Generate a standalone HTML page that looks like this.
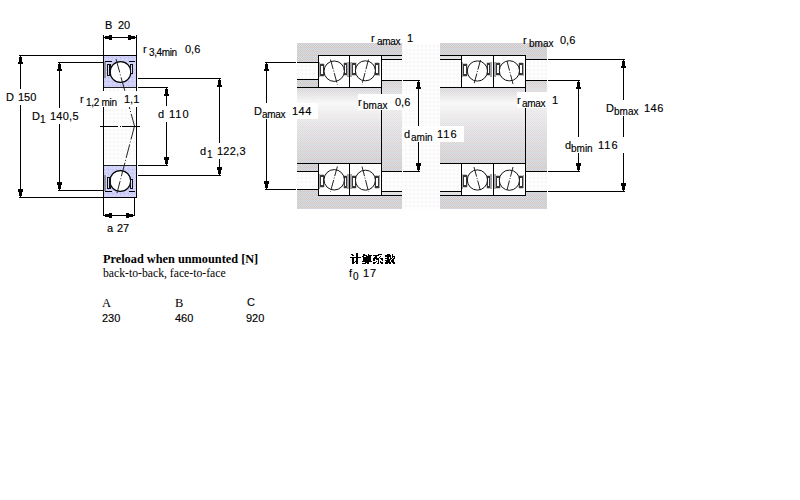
<!DOCTYPE html>
<html><head><meta charset="utf-8"><style>
html,body{margin:0;padding:0;background:#fff;width:800px;height:500px;overflow:hidden}
svg{position:absolute;left:0;top:0}
</style></head><body>
<svg width="800" height="500" viewBox="0 0 800 500">
<defs>
<pattern id="bp" patternUnits="userSpaceOnUse" x="0" y="0" width="4" height="4">
<rect width="4" height="4" fill="#d2cdf8"/><rect x="1" y="0" width="1" height="1" fill="#dcd8fb"/><rect x="3" y="2" width="1" height="1" fill="#dcd8fb"/>
<rect x="0" y="1" width="1" height="1" fill="#9ec8f4"/><rect x="2" y="3" width="1" height="1" fill="#c4f4f0"/>
</pattern>
<pattern id="hp" patternUnits="userSpaceOnUse" x="0" y="0" width="4" height="4">
<rect width="4" height="4" fill="#fdfdfd"/><rect x="1" y="2" width="1" height="1" fill="#f1f1f1"/><rect x="2" y="1" width="1" height="1" fill="#f1f1f1"/>
</pattern>
<pattern id="gp" patternUnits="userSpaceOnUse" x="0" y="0" width="4" height="4">
<rect width="4" height="4" fill="#dcdcdc"/>
<rect x="0" y="0" width="1" height="1" fill="#cbcbcb"/><rect x="2" y="0" width="1" height="1" fill="#cbcbcb"/>
<rect x="1" y="1" width="1" height="1" fill="#cbcbcb"/><rect x="3" y="1" width="1" height="1" fill="#cbcbcb"/>
<rect x="0" y="2" width="1" height="1" fill="#cbcbcb"/><rect x="2" y="2" width="1" height="1" fill="#cbcbcb"/>
<rect x="1" y="3" width="1" height="1" fill="#cbcbcb"/><rect x="3" y="3" width="1" height="1" fill="#cbcbcb"/>
<rect x="0" y="3" width="1" height="1" fill="#f0c4cc"/><rect x="0" y="0" width="1" height="1" fill="#cacaf2"/>
</pattern>
<linearGradient id="shaft" x1="0" y1="0" x2="0" y2="1">
<stop offset="0" stop-color="#fff" stop-opacity="0.15"/><stop offset="0.2" stop-color="#fff" stop-opacity="0.85"/><stop offset="0.5" stop-color="#fff" stop-opacity="0.4"/><stop offset="1" stop-color="#fff" stop-opacity="0"/>
</linearGradient>
<linearGradient id="shoulder" x1="0" y1="0" x2="0" y2="1">
<stop offset="0" stop-color="#fff" stop-opacity="0.1"/><stop offset="0.3" stop-color="#fff" stop-opacity="0.6"/><stop offset="0.6" stop-color="#fff" stop-opacity="0.3"/><stop offset="1" stop-color="#fff" stop-opacity="0"/>
</linearGradient>
</defs>
<rect x="104" y="56" width="32" height="31" fill="url(#bp)"/>
<rect x="104" y="166" width="32" height="31" fill="url(#bp)"/>
<rect x="104" y="88" width="32" height="77" fill="url(#hp)"/>
<rect x="103" y="55" width="1" height="143" fill="#000"/>
<rect x="136" y="55" width="1" height="143" fill="#000"/>
<rect x="103" y="55" width="34" height="1" fill="#000"/>
<rect x="103" y="197" width="34" height="1" fill="#000"/>
<rect x="104" y="87" width="32" height="1" fill="#222"/>
<rect x="104" y="165" width="32" height="1" fill="#222"/>
<circle cx="120.5" cy="72.0" r="10.4" fill="#fff" stroke="#000" stroke-width="1.3"/>
<circle cx="120.3" cy="181.0" r="10.4" fill="#fff" stroke="#000" stroke-width="1.3"/>
<rect x="105" y="61" width="7" height="1" fill="#000"/>
<rect x="105" y="191" width="7" height="1" fill="#000"/>
<rect x="129" y="61" width="6" height="1" fill="#000"/>
<rect x="129" y="191" width="6" height="1" fill="#000"/>
<rect x="104" y="62" width="2" height="16" fill="#8e8e9c"/>
<rect x="104" y="175" width="2" height="16" fill="#8e8e9c"/>
<rect x="107" y="64" width="4" height="12" fill="#111"/>
<rect x="107" y="177" width="4" height="12" fill="#111"/>
<rect x="108" y="65" width="1" height="10" fill="#d4dcfa"/>
<rect x="108" y="178" width="1" height="10" fill="#d4dcfa"/>
<rect x="130" y="64" width="3" height="10" fill="#111"/>
<rect x="130" y="179" width="3" height="10" fill="#111"/>
<rect x="131" y="65" width="1" height="8" fill="#d4dcfa"/>
<rect x="131" y="180" width="1" height="8" fill="#d4dcfa"/>
<line x1="116" y1="59" x2="134.5" y2="126" stroke="#222" stroke-width="1" stroke-dasharray="14,2,1,2"/>
<line x1="134.5" y1="126" x2="117" y2="193" stroke="#222" stroke-width="1" stroke-dasharray="14,2,1,2"/>
<rect x="100" y="126" width="18" height="1" fill="#000"/>
<rect x="120" y="126" width="1" height="1" fill="#000"/>
<rect x="122" y="126" width="18" height="1" fill="#000"/>
<rect x="19" y="55" width="84" height="1" fill="#000"/>
<rect x="19" y="197" width="84" height="1" fill="#000"/>
<rect x="20" y="55" width="1" height="143" fill="#000"/>
<rect x="20" y="56" width="1" height="1" fill="#000"/>
<rect x="19" y="57" width="3" height="5" fill="#000"/>
<rect x="18" y="62" width="5" height="2" fill="#000"/>
<rect x="20" y="196" width="1" height="1" fill="#000"/>
<rect x="19" y="192" width="3" height="4" fill="#000"/>
<rect x="18" y="189" width="5" height="3" fill="#000"/>
<rect x="4" y="89" width="34" height="16" fill="#fff"/>
<text x="6" y="101" font-family="Liberation Sans" font-size="11" font-weight="normal" fill="#000" stroke="#000" stroke-width="0.15" text-anchor="start">D</text>
<text x="18" y="101" font-family="Liberation Sans" font-size="11" font-weight="normal" fill="#000" stroke="#000" stroke-width="0.15" text-anchor="start">150</text>
<rect x="58" y="62" width="45" height="1" fill="#000"/>
<rect x="58" y="190" width="45" height="1" fill="#000"/>
<rect x="59" y="62" width="1" height="129" fill="#000"/>
<rect x="59" y="63" width="1" height="1" fill="#000"/>
<rect x="58" y="64" width="3" height="5" fill="#000"/>
<rect x="57" y="69" width="5" height="2" fill="#000"/>
<rect x="59" y="189" width="1" height="1" fill="#000"/>
<rect x="58" y="185" width="3" height="4" fill="#000"/>
<rect x="57" y="182" width="5" height="3" fill="#000"/>
<rect x="31" y="108" width="48" height="16" fill="#fff"/>
<text x="32" y="120" font-family="Liberation Sans" font-size="11" font-weight="normal" fill="#000" stroke="#000" stroke-width="0.15" text-anchor="start">D</text>
<text x="40" y="123" font-family="Liberation Sans" font-size="10" font-weight="normal" fill="#000" stroke="#000" stroke-width="0.15" text-anchor="start">1</text>
<text x="50" y="120" font-family="Liberation Sans" font-size="11" font-weight="normal" fill="#000" stroke="#000" stroke-width="0.15" text-anchor="start" letter-spacing="0.25">140,5</text>
<rect x="103" y="35" width="1" height="20" fill="#000"/>
<rect x="136" y="35" width="1" height="20" fill="#000"/>
<rect x="103" y="37" width="34" height="1" fill="#000"/>
<rect x="104" y="37" width="1" height="1" fill="#000"/>
<rect x="105" y="36" width="4" height="3" fill="#000"/>
<rect x="109" y="35" width="3" height="5" fill="#000"/>
<rect x="135" y="37" width="1" height="1" fill="#000"/>
<rect x="131" y="36" width="4" height="3" fill="#000"/>
<rect x="128" y="35" width="3" height="5" fill="#000"/>
<text x="105" y="29" font-family="Liberation Sans" font-size="11" font-weight="normal" fill="#000" stroke="#000" stroke-width="0.15" text-anchor="start">B</text>
<text x="118" y="29" font-family="Liberation Sans" font-size="11" font-weight="normal" fill="#000" stroke="#000" stroke-width="0.15" text-anchor="start">20</text>
<rect x="103" y="198" width="1" height="18" fill="#000"/>
<rect x="134" y="198" width="1" height="18" fill="#000"/>
<rect x="103" y="215" width="32" height="1" fill="#000"/>
<rect x="104" y="215" width="1" height="1" fill="#000"/>
<rect x="105" y="214" width="4" height="3" fill="#000"/>
<rect x="109" y="213" width="3" height="5" fill="#000"/>
<rect x="133" y="215" width="1" height="1" fill="#000"/>
<rect x="129" y="214" width="4" height="3" fill="#000"/>
<rect x="126" y="213" width="3" height="5" fill="#000"/>
<text x="107" y="232" font-family="Liberation Sans" font-size="11" font-weight="normal" fill="#000" stroke="#000" stroke-width="0.15" text-anchor="start">a</text>
<text x="117" y="232" font-family="Liberation Sans" font-size="11" font-weight="normal" fill="#000" stroke="#000" stroke-width="0.15" text-anchor="start">27</text>
<text x="143" y="53" font-family="Liberation Sans" font-size="11" font-weight="normal" fill="#000" stroke="#000" stroke-width="0.15" text-anchor="start">r</text>
<text x="149" y="56" font-family="Liberation Sans" font-size="10" font-weight="normal" fill="#000" stroke="#000" stroke-width="0.15" text-anchor="start" letter-spacing="-0.4">3,4min</text>
<text x="185" y="53" font-family="Liberation Sans" font-size="11" font-weight="normal" fill="#000" stroke="#000" stroke-width="0.15" text-anchor="start">0,6</text>
<rect x="79" y="91" width="60" height="16" fill="#fff"/>
<text x="80" y="103" font-family="Liberation Sans" font-size="11" font-weight="normal" fill="#000" stroke="#000" stroke-width="0.15" text-anchor="start">r</text>
<text x="86" y="106" font-family="Liberation Sans" font-size="10" font-weight="normal" fill="#000" stroke="#000" stroke-width="0.15" text-anchor="start" letter-spacing="-0.3">1,2 min</text>
<text x="124" y="103" font-family="Liberation Sans" font-size="11" font-weight="normal" fill="#000" stroke="#000" stroke-width="0.15" text-anchor="start">1,1</text>
<rect x="138" y="87" width="30" height="1" fill="#000"/>
<rect x="138" y="165" width="30" height="1" fill="#000"/>
<rect x="166" y="87" width="1" height="79" fill="#000"/>
<rect x="166" y="88" width="1" height="1" fill="#000"/>
<rect x="165" y="89" width="3" height="5" fill="#000"/>
<rect x="164" y="94" width="5" height="2" fill="#000"/>
<rect x="166" y="164" width="1" height="1" fill="#000"/>
<rect x="165" y="160" width="3" height="4" fill="#000"/>
<rect x="164" y="157" width="5" height="3" fill="#000"/>
<rect x="156" y="106" width="34" height="16" fill="#fff"/>
<text x="158" y="118" font-family="Liberation Sans" font-size="11" font-weight="normal" fill="#000" stroke="#000" stroke-width="0.15" text-anchor="start">d</text>
<text x="169" y="118" font-family="Liberation Sans" font-size="11" font-weight="normal" fill="#000" stroke="#000" stroke-width="0.15" text-anchor="start" letter-spacing="1">110</text>
<rect x="138" y="78" width="83" height="1" fill="#000"/>
<rect x="138" y="175" width="83" height="1" fill="#000"/>
<rect x="219" y="78" width="1" height="98" fill="#000"/>
<rect x="219" y="79" width="1" height="1" fill="#000"/>
<rect x="218" y="80" width="3" height="5" fill="#000"/>
<rect x="217" y="85" width="5" height="2" fill="#000"/>
<rect x="219" y="174" width="1" height="1" fill="#000"/>
<rect x="218" y="170" width="3" height="4" fill="#000"/>
<rect x="217" y="167" width="5" height="3" fill="#000"/>
<rect x="198" y="143" width="48" height="16" fill="#fff"/>
<text x="200" y="155" font-family="Liberation Sans" font-size="11" font-weight="normal" fill="#000" stroke="#000" stroke-width="0.15" text-anchor="start">d</text>
<text x="207" y="158" font-family="Liberation Sans" font-size="10" font-weight="normal" fill="#000" stroke="#000" stroke-width="0.15" text-anchor="start">1</text>
<text x="217" y="155" font-family="Liberation Sans" font-size="11" font-weight="normal" fill="#000" stroke="#000" stroke-width="0.15" text-anchor="start" letter-spacing="0.25">122,3</text>
<rect x="402" y="43" width="38" height="166" fill="url(#hp)"/>
<rect x="297" y="43" width="105" height="166" fill="url(#gp)"/>
<rect x="297" y="88" width="84" height="75" fill="url(#shaft)"/>
<rect x="382" y="81" width="20" height="90" fill="url(#shoulder)"/>
<rect x="297" y="63" width="21" height="16" fill="url(#hp)"/>
<rect x="297" y="62" width="22" height="1" fill="#000"/>
<rect x="297" y="79" width="22" height="1" fill="#000"/>
<rect x="297" y="87" width="85" height="1" fill="#000"/>
<rect x="297" y="172" width="21" height="17" fill="url(#hp)"/>
<rect x="297" y="163" width="85" height="1" fill="#000"/>
<rect x="297" y="171" width="22" height="1" fill="#000"/>
<rect x="297" y="189" width="22" height="1" fill="#000"/>
<rect x="382" y="56" width="20" height="3" fill="#e2e2e4"/>
<rect x="382" y="60" width="20" height="20" fill="url(#hp)"/>
<rect x="381" y="59" width="21" height="1" fill="#000"/>
<rect x="381" y="80" width="21" height="1" fill="#000"/>
<rect x="382" y="172" width="20" height="19" fill="url(#hp)"/>
<rect x="382" y="192" width="20" height="3" fill="#e2e2e4"/>
<rect x="381" y="171" width="21" height="1" fill="#000"/>
<rect x="381" y="191" width="21" height="1" fill="#000"/>
<rect x="381" y="55" width="21" height="1" fill="#000"/>
<rect x="381" y="195" width="21" height="1" fill="#000"/>
<rect x="381" y="55" width="1" height="141" fill="#000"/>
<rect x="318" y="55" width="64" height="1" fill="#000"/>
<rect x="318" y="195" width="64" height="1" fill="#000"/>
<rect x="318.5" y="55.5" width="31" height="32" fill="#fff" stroke="#000" stroke-width="1"/>
<rect x="319" y="62" width="1" height="15" fill="#a4a4a8"/>
<rect x="347" y="62" width="2" height="15" fill="#a4a4a8"/>
<rect x="319.5" y="63.5" width="5" height="13" rx="1.5" fill="none" stroke="#aaa" stroke-width="0.6"/>
<rect x="320" y="64" width="4" height="12" fill="#383838"/>
<rect x="321" y="66" width="2" height="8" fill="#fff"/>
<rect x="343.5" y="62.5" width="4" height="13" rx="1.5" fill="none" stroke="#aaa" stroke-width="0.6"/>
<rect x="344" y="63" width="3" height="12" fill="#383838"/>
<rect x="345" y="65" width="1" height="8" fill="#fff"/>
<circle cx="334.2" cy="71.2" r="10.2" fill="#fff" stroke="#111" stroke-width="1"/>
<line x1="330.5" y1="59.5" x2="337.4" y2="84.6" stroke="#222" stroke-width="1" stroke-dasharray="10,1.5,1,1.5"/>
<rect x="349.5" y="55.5" width="32" height="32" fill="#fff" stroke="#000" stroke-width="1"/>
<rect x="350" y="62" width="2" height="15" fill="#a4a4a8"/>
<rect x="379" y="63" width="1" height="13" fill="#a4a4a8"/>
<rect x="351.5" y="62.5" width="5" height="13" rx="1.5" fill="none" stroke="#aaa" stroke-width="0.6"/>
<rect x="352" y="63" width="4" height="12" fill="#383838"/>
<rect x="353" y="65" width="2" height="8" fill="#fff"/>
<rect x="374.5" y="62.5" width="5" height="13" rx="1.5" fill="none" stroke="#aaa" stroke-width="0.6"/>
<rect x="375" y="63" width="4" height="12" fill="#383838"/>
<rect x="376" y="65" width="2" height="8" fill="#fff"/>
<circle cx="365.4" cy="70.8" r="10.0" fill="#fff" stroke="#111" stroke-width="1"/>
<line x1="368.5" y1="59.5" x2="362" y2="84.5" stroke="#222" stroke-width="1" stroke-dasharray="10,1.5,1,1.5"/>
<rect x="318.5" y="163.5" width="31" height="32" fill="#fff" stroke="#000" stroke-width="1"/>
<rect x="319" y="174" width="1" height="15" fill="#a4a4a8"/>
<rect x="347" y="174" width="2" height="15" fill="#a4a4a8"/>
<rect x="319.5" y="174.5" width="5" height="13" rx="1.5" fill="none" stroke="#aaa" stroke-width="0.6"/>
<rect x="320" y="175" width="4" height="12" fill="#383838"/>
<rect x="321" y="177" width="2" height="8" fill="#fff"/>
<rect x="343.5" y="175.5" width="4" height="13" rx="1.5" fill="none" stroke="#aaa" stroke-width="0.6"/>
<rect x="344" y="176" width="3" height="12" fill="#383838"/>
<rect x="345" y="178" width="1" height="8" fill="#fff"/>
<circle cx="334.2" cy="179.8" r="10.2" fill="#fff" stroke="#111" stroke-width="1"/>
<line x1="337.4" y1="166.4" x2="330.5" y2="191.5" stroke="#222" stroke-width="1" stroke-dasharray="10,1.5,1,1.5"/>
<rect x="349.5" y="163.5" width="32" height="32" fill="#fff" stroke="#000" stroke-width="1"/>
<rect x="350" y="174" width="2" height="15" fill="#a4a4a8"/>
<rect x="379" y="175" width="1" height="13" fill="#a4a4a8"/>
<rect x="351.5" y="175.5" width="5" height="13" rx="1.5" fill="none" stroke="#aaa" stroke-width="0.6"/>
<rect x="352" y="176" width="4" height="12" fill="#383838"/>
<rect x="353" y="178" width="2" height="8" fill="#fff"/>
<rect x="374.5" y="175.5" width="5" height="13" rx="1.5" fill="none" stroke="#aaa" stroke-width="0.6"/>
<rect x="375" y="176" width="4" height="12" fill="#383838"/>
<rect x="376" y="178" width="2" height="8" fill="#fff"/>
<circle cx="365.4" cy="180.2" r="10.0" fill="#fff" stroke="#111" stroke-width="1"/>
<line x1="362" y1="166.5" x2="368.5" y2="191.5" stroke="#222" stroke-width="1" stroke-dasharray="10,1.5,1,1.5"/>
<rect x="440" y="43" width="107" height="166" fill="url(#gp)"/>
<rect x="440" y="88" width="85" height="75" fill="url(#shaft)"/>
<rect x="526" y="81" width="21" height="90" fill="url(#shoulder)"/>
<rect x="440" y="56" width="21" height="3" fill="#e2e2e4"/>
<rect x="440" y="60" width="21" height="27" fill="url(#hp)"/>
<rect x="440" y="55" width="22" height="1" fill="#000"/>
<rect x="440" y="59" width="22" height="1" fill="#000"/>
<rect x="440" y="87" width="86" height="1" fill="#000"/>
<rect x="440" y="164" width="21" height="27" fill="url(#hp)"/>
<rect x="440" y="192" width="21" height="3" fill="#e2e2e4"/>
<rect x="440" y="163" width="86" height="1" fill="#000"/>
<rect x="440" y="191" width="22" height="1" fill="#000"/>
<rect x="440" y="195" width="22" height="1" fill="#000"/>
<rect x="526" y="56" width="21" height="3" fill="#d5d4d8"/>
<rect x="526" y="60" width="21" height="20" fill="url(#hp)"/>
<rect x="525" y="59" width="22" height="1" fill="#000"/>
<rect x="525" y="80" width="22" height="1" fill="#000"/>
<rect x="526" y="172" width="21" height="19" fill="url(#hp)"/>
<rect x="526" y="192" width="21" height="3" fill="#d5d4d8"/>
<rect x="525" y="171" width="22" height="1" fill="#000"/>
<rect x="525" y="191" width="22" height="1" fill="#000"/>
<rect x="525" y="55" width="1" height="141" fill="#000"/>
<rect x="461" y="55" width="65" height="1" fill="#000"/>
<rect x="461" y="195" width="65" height="1" fill="#000"/>
<rect x="461.5" y="55.5" width="32" height="32" fill="#fff" stroke="#000" stroke-width="1"/>
<rect x="462" y="62" width="1" height="15" fill="#a4a4a8"/>
<rect x="490" y="62" width="2" height="15" fill="#a4a4a8"/>
<rect x="462.5" y="63.5" width="5" height="13" rx="1.5" fill="none" stroke="#aaa" stroke-width="0.6"/>
<rect x="463" y="64" width="4" height="12" fill="#383838"/>
<rect x="464" y="66" width="2" height="8" fill="#fff"/>
<rect x="486.5" y="62.5" width="4" height="13" rx="1.5" fill="none" stroke="#aaa" stroke-width="0.6"/>
<rect x="487" y="63" width="3" height="12" fill="#383838"/>
<rect x="488" y="65" width="1" height="8" fill="#fff"/>
<circle cx="477.4" cy="71.0" r="10.1" fill="#fff" stroke="#111" stroke-width="1"/>
<line x1="480.5" y1="60" x2="474" y2="84" stroke="#222" stroke-width="1" stroke-dasharray="10,1.5,1,1.5"/>
<rect x="493.5" y="55.5" width="32" height="32" fill="#fff" stroke="#000" stroke-width="1"/>
<rect x="494" y="62" width="2" height="15" fill="#a4a4a8"/>
<rect x="523" y="63" width="1" height="13" fill="#a4a4a8"/>
<rect x="495.5" y="62.5" width="5" height="13" rx="1.5" fill="none" stroke="#aaa" stroke-width="0.6"/>
<rect x="496" y="63" width="4" height="12" fill="#383838"/>
<rect x="497" y="65" width="2" height="8" fill="#fff"/>
<rect x="518.5" y="62.5" width="5" height="13" rx="1.5" fill="none" stroke="#aaa" stroke-width="0.6"/>
<rect x="519" y="63" width="4" height="12" fill="#383838"/>
<rect x="520" y="65" width="2" height="8" fill="#fff"/>
<circle cx="509.4" cy="70.8" r="10.1" fill="#fff" stroke="#111" stroke-width="1"/>
<line x1="507" y1="61" x2="513" y2="84" stroke="#222" stroke-width="1" stroke-dasharray="10,1.5,1,1.5"/>
<rect x="461.5" y="163.5" width="32" height="32" fill="#fff" stroke="#000" stroke-width="1"/>
<rect x="462" y="174" width="1" height="15" fill="#a4a4a8"/>
<rect x="490" y="174" width="2" height="15" fill="#a4a4a8"/>
<rect x="462.5" y="174.5" width="5" height="13" rx="1.5" fill="none" stroke="#aaa" stroke-width="0.6"/>
<rect x="463" y="175" width="4" height="12" fill="#383838"/>
<rect x="464" y="177" width="2" height="8" fill="#fff"/>
<rect x="486.5" y="175.5" width="4" height="13" rx="1.5" fill="none" stroke="#aaa" stroke-width="0.6"/>
<rect x="487" y="176" width="3" height="12" fill="#383838"/>
<rect x="488" y="178" width="1" height="8" fill="#fff"/>
<circle cx="477.4" cy="180.0" r="10.1" fill="#fff" stroke="#111" stroke-width="1"/>
<line x1="474" y1="167" x2="480.5" y2="191" stroke="#222" stroke-width="1" stroke-dasharray="10,1.5,1,1.5"/>
<rect x="493.5" y="163.5" width="32" height="32" fill="#fff" stroke="#000" stroke-width="1"/>
<rect x="494" y="174" width="2" height="15" fill="#a4a4a8"/>
<rect x="523" y="175" width="1" height="13" fill="#a4a4a8"/>
<rect x="495.5" y="175.5" width="5" height="13" rx="1.5" fill="none" stroke="#aaa" stroke-width="0.6"/>
<rect x="496" y="176" width="4" height="12" fill="#383838"/>
<rect x="497" y="178" width="2" height="8" fill="#fff"/>
<rect x="518.5" y="175.5" width="5" height="13" rx="1.5" fill="none" stroke="#aaa" stroke-width="0.6"/>
<rect x="519" y="176" width="4" height="12" fill="#383838"/>
<rect x="520" y="178" width="2" height="8" fill="#fff"/>
<circle cx="509.4" cy="180.2" r="10.1" fill="#fff" stroke="#111" stroke-width="1"/>
<line x1="513" y1="167" x2="507" y2="190" stroke="#222" stroke-width="1" stroke-dasharray="10,1.5,1,1.5"/>
<rect x="265" y="62" width="31" height="1" fill="#000"/>
<rect x="265" y="189" width="31" height="1" fill="#000"/>
<rect x="266" y="62" width="1" height="128" fill="#000"/>
<rect x="266" y="63" width="1" height="1" fill="#000"/>
<rect x="265" y="64" width="3" height="5" fill="#000"/>
<rect x="264" y="69" width="5" height="2" fill="#000"/>
<rect x="266" y="188" width="1" height="1" fill="#000"/>
<rect x="265" y="184" width="3" height="4" fill="#000"/>
<rect x="264" y="181" width="5" height="3" fill="#000"/>
<rect x="250" y="103" width="47" height="16" fill="#fff"/>
<rect x="297" y="103" width="21" height="16" fill="#fff"/>
<text x="254" y="115" font-family="Liberation Sans" font-size="11" font-weight="normal" fill="#000" stroke="#000" stroke-width="0.15" text-anchor="start">D</text>
<text x="262" y="118" font-family="Liberation Sans" font-size="10" font-weight="normal" fill="#000" stroke="#000" stroke-width="0.15" text-anchor="start" letter-spacing="-0.3">amax</text>
<text x="292" y="115" font-family="Liberation Sans" font-size="11" font-weight="normal" fill="#000" stroke="#000" stroke-width="0.15" text-anchor="start" letter-spacing="0.5">144</text>
<text x="371" y="42" font-family="Liberation Sans" font-size="11" font-weight="normal" fill="#000" stroke="#000" stroke-width="0.15" text-anchor="start">r</text>
<text x="377" y="45" font-family="Liberation Sans" font-size="10" font-weight="normal" fill="#000" stroke="#000" stroke-width="0.15" text-anchor="start" letter-spacing="-0.3">amax</text>
<text x="407" y="42" font-family="Liberation Sans" font-size="11" font-weight="normal" fill="#000" stroke="#000" stroke-width="0.15" text-anchor="start">1</text>
<rect x="358" y="94" width="58" height="16" fill="#fff"/>
<text x="358" y="106" font-family="Liberation Sans" font-size="11" font-weight="normal" fill="#000" stroke="#000" stroke-width="0.15" text-anchor="start">r</text>
<text x="363" y="109" font-family="Liberation Sans" font-size="10" font-weight="normal" fill="#000" stroke="#000" stroke-width="0.15" text-anchor="start">bmax</text>
<text x="395" y="106" font-family="Liberation Sans" font-size="11" font-weight="normal" fill="#000" stroke="#000" stroke-width="0.15" text-anchor="start">0,6</text>
<rect x="403" y="80" width="17" height="1" fill="#000"/>
<rect x="403" y="171" width="17" height="1" fill="#000"/>
<rect x="418" y="80" width="1" height="92" fill="#000"/>
<rect x="418" y="81" width="1" height="1" fill="#000"/>
<rect x="417" y="82" width="3" height="5" fill="#000"/>
<rect x="416" y="87" width="5" height="2" fill="#000"/>
<rect x="418" y="170" width="1" height="1" fill="#000"/>
<rect x="417" y="166" width="3" height="4" fill="#000"/>
<rect x="416" y="163" width="5" height="3" fill="#000"/>
<rect x="402" y="126" width="62" height="16" fill="#fff"/>
<text x="404" y="138" font-family="Liberation Sans" font-size="11" font-weight="normal" fill="#000" stroke="#000" stroke-width="0.15" text-anchor="start">d</text>
<text x="411" y="141" font-family="Liberation Sans" font-size="10" font-weight="normal" fill="#000" stroke="#000" stroke-width="0.15" text-anchor="start">amin</text>
<text x="437" y="138" font-family="Liberation Sans" font-size="11" font-weight="normal" fill="#000" stroke="#000" stroke-width="0.15" text-anchor="start" letter-spacing="1">116</text>
<text x="523" y="44" font-family="Liberation Sans" font-size="11" font-weight="normal" fill="#000" stroke="#000" stroke-width="0.15" text-anchor="start">r</text>
<text x="529" y="47" font-family="Liberation Sans" font-size="10" font-weight="normal" fill="#000" stroke="#000" stroke-width="0.15" text-anchor="start">bmax</text>
<text x="560" y="44" font-family="Liberation Sans" font-size="11" font-weight="normal" fill="#000" stroke="#000" stroke-width="0.15" text-anchor="start">0,6</text>
<rect x="517" y="92" width="40" height="16" fill="#fff"/>
<text x="517" y="104" font-family="Liberation Sans" font-size="11" font-weight="normal" fill="#000" stroke="#000" stroke-width="0.15" text-anchor="start">r</text>
<text x="522" y="107" font-family="Liberation Sans" font-size="10" font-weight="normal" fill="#000" stroke="#000" stroke-width="0.15" text-anchor="start" letter-spacing="-0.3">amax</text>
<text x="552" y="104" font-family="Liberation Sans" font-size="11" font-weight="normal" fill="#000" stroke="#000" stroke-width="0.15" text-anchor="start">1</text>
<rect x="548" y="59" width="77" height="1" fill="#000"/>
<rect x="548" y="191" width="77" height="1" fill="#000"/>
<rect x="623" y="59" width="1" height="133" fill="#000"/>
<rect x="623" y="60" width="1" height="1" fill="#000"/>
<rect x="622" y="61" width="3" height="5" fill="#000"/>
<rect x="621" y="66" width="5" height="2" fill="#000"/>
<rect x="623" y="190" width="1" height="1" fill="#000"/>
<rect x="622" y="186" width="3" height="4" fill="#000"/>
<rect x="621" y="183" width="5" height="3" fill="#000"/>
<rect x="604" y="100" width="62" height="16" fill="#fff"/>
<text x="606" y="112" font-family="Liberation Sans" font-size="11" font-weight="normal" fill="#000" stroke="#000" stroke-width="0.15" text-anchor="start">D</text>
<text x="614" y="115" font-family="Liberation Sans" font-size="10" font-weight="normal" fill="#000" stroke="#000" stroke-width="0.15" text-anchor="start">bmax</text>
<text x="644" y="112" font-family="Liberation Sans" font-size="11" font-weight="normal" fill="#000" stroke="#000" stroke-width="0.15" text-anchor="start" letter-spacing="0.5">146</text>
<rect x="548" y="80" width="32" height="1" fill="#000"/>
<rect x="548" y="171" width="32" height="1" fill="#000"/>
<rect x="578" y="80" width="1" height="92" fill="#000"/>
<rect x="578" y="81" width="1" height="1" fill="#000"/>
<rect x="577" y="82" width="3" height="5" fill="#000"/>
<rect x="576" y="87" width="5" height="2" fill="#000"/>
<rect x="578" y="170" width="1" height="1" fill="#000"/>
<rect x="577" y="166" width="3" height="4" fill="#000"/>
<rect x="576" y="163" width="5" height="3" fill="#000"/>
<rect x="563" y="137" width="64" height="16" fill="#fff"/>
<text x="565" y="149" font-family="Liberation Sans" font-size="11" font-weight="normal" fill="#000" stroke="#000" stroke-width="0.15" text-anchor="start">d</text>
<text x="571" y="152" font-family="Liberation Sans" font-size="10" font-weight="normal" fill="#000" stroke="#000" stroke-width="0.15" text-anchor="start">bmin</text>
<text x="598" y="149" font-family="Liberation Sans" font-size="11" font-weight="normal" fill="#000" stroke="#000" stroke-width="0.15" text-anchor="start" letter-spacing="1">116</text>
<rect x="356" y="253" width="2" height="1" fill="#000"/>
<rect x="351" y="254" width="2" height="1" fill="#000"/>
<rect x="356" y="254" width="2" height="1" fill="#000"/>
<rect x="352" y="255" width="2" height="1" fill="#000"/>
<rect x="356" y="255" width="2" height="1" fill="#000"/>
<rect x="356" y="256" width="2" height="1" fill="#000"/>
<rect x="350" y="257" width="11" height="1" fill="#000"/>
<rect x="352" y="258" width="2" height="1" fill="#000"/>
<rect x="356" y="258" width="2" height="1" fill="#000"/>
<rect x="352" y="259" width="2" height="1" fill="#000"/>
<rect x="356" y="259" width="2" height="1" fill="#000"/>
<rect x="352" y="260" width="2" height="1" fill="#000"/>
<rect x="356" y="260" width="2" height="1" fill="#000"/>
<rect x="352" y="261" width="2" height="1" fill="#000"/>
<rect x="355" y="261" width="3" height="1" fill="#000"/>
<rect x="352" y="262" width="3" height="1" fill="#000"/>
<rect x="356" y="262" width="2" height="1" fill="#000"/>
<rect x="352" y="263" width="2" height="1" fill="#000"/>
<rect x="356" y="263" width="2" height="1" fill="#000"/>
<rect x="363" y="254" width="2" height="1" fill="#000"/>
<rect x="368" y="254" width="1" height="1" fill="#000"/>
<rect x="363" y="255" width="4" height="1" fill="#000"/>
<rect x="368" y="255" width="4" height="1" fill="#000"/>
<rect x="362" y="256" width="2" height="1" fill="#000"/>
<rect x="366" y="256" width="5" height="1" fill="#000"/>
<rect x="363" y="257" width="8" height="1" fill="#000"/>
<rect x="363" y="258" width="8" height="1" fill="#000"/>
<rect x="363" y="259" width="8" height="1" fill="#000"/>
<rect x="363" y="260" width="8" height="1" fill="#000"/>
<rect x="362" y="261" width="10" height="1" fill="#000"/>
<rect x="365" y="262" width="4" height="1" fill="#000"/>
<rect x="362" y="263" width="4" height="1" fill="#000"/>
<rect x="367" y="263" width="2" height="1" fill="#000"/>
<rect x="378" y="254" width="4" height="1" fill="#000"/>
<rect x="373" y="255" width="6" height="1" fill="#000"/>
<rect x="375" y="256" width="2" height="1" fill="#000"/>
<rect x="380" y="256" width="1" height="1" fill="#000"/>
<rect x="374" y="257" width="3" height="1" fill="#000"/>
<rect x="379" y="257" width="1" height="1" fill="#000"/>
<rect x="373" y="258" width="6" height="1" fill="#000"/>
<rect x="380" y="258" width="3" height="1" fill="#000"/>
<rect x="373" y="259" width="2" height="1" fill="#000"/>
<rect x="376" y="259" width="3" height="1" fill="#000"/>
<rect x="381" y="259" width="2" height="1" fill="#000"/>
<rect x="373" y="260" width="2" height="1" fill="#000"/>
<rect x="378" y="260" width="1" height="1" fill="#000"/>
<rect x="382" y="260" width="1" height="1" fill="#000"/>
<rect x="376" y="261" width="1" height="1" fill="#000"/>
<rect x="378" y="261" width="1" height="1" fill="#000"/>
<rect x="380" y="261" width="1" height="1" fill="#000"/>
<rect x="373" y="262" width="3" height="1" fill="#000"/>
<rect x="378" y="262" width="1" height="1" fill="#000"/>
<rect x="380" y="262" width="3" height="1" fill="#000"/>
<rect x="373" y="263" width="2" height="1" fill="#000"/>
<rect x="377" y="263" width="2" height="1" fill="#000"/>
<rect x="381" y="263" width="2" height="1" fill="#000"/>
<rect x="387" y="254" width="3" height="1" fill="#000"/>
<rect x="392" y="254" width="1" height="1" fill="#000"/>
<rect x="385" y="255" width="6" height="1" fill="#000"/>
<rect x="392" y="255" width="1" height="1" fill="#000"/>
<rect x="385" y="256" width="6" height="1" fill="#000"/>
<rect x="392" y="256" width="3" height="1" fill="#000"/>
<rect x="387" y="257" width="2" height="1" fill="#000"/>
<rect x="390" y="257" width="1" height="1" fill="#000"/>
<rect x="392" y="257" width="1" height="1" fill="#000"/>
<rect x="394" y="257" width="1" height="1" fill="#000"/>
<rect x="385" y="258" width="4" height="1" fill="#000"/>
<rect x="390" y="258" width="2" height="1" fill="#000"/>
<rect x="393" y="258" width="2" height="1" fill="#000"/>
<rect x="387" y="259" width="4" height="1" fill="#000"/>
<rect x="392" y="259" width="2" height="1" fill="#000"/>
<rect x="385" y="260" width="5" height="1" fill="#000"/>
<rect x="391" y="260" width="3" height="1" fill="#000"/>
<rect x="386" y="261" width="4" height="1" fill="#000"/>
<rect x="391" y="261" width="3" height="1" fill="#000"/>
<rect x="385" y="262" width="6" height="1" fill="#000"/>
<rect x="392" y="262" width="3" height="1" fill="#000"/>
<rect x="385" y="263" width="3" height="1" fill="#000"/>
<rect x="389" y="263" width="2" height="1" fill="#000"/>
<rect x="393" y="263" width="2" height="1" fill="#000"/>
<text x="103" y="263" font-family="Liberation Serif" font-size="12.3" font-weight="bold" fill="#000" stroke="#000" stroke-width="0" text-anchor="start">Preload when unmounted [N]</text>
<text x="103" y="277" font-family="Liberation Serif" font-size="11.7" font-weight="normal" fill="#000" stroke="#000" stroke-width="0" text-anchor="start">back-to-back, face-to-face</text>
<text x="102" y="307" font-family="Liberation Serif" font-size="12.5" font-weight="normal" fill="#000" stroke="#000" stroke-width="0" text-anchor="start">A</text>
<text x="175" y="307" font-family="Liberation Serif" font-size="12.5" font-weight="normal" fill="#000" stroke="#000" stroke-width="0" text-anchor="start">B</text>
<text x="247" y="306" font-family="Liberation Sans" font-size="11" font-weight="normal" fill="#000" stroke="#000" stroke-width="0.15" text-anchor="start">C</text>
<text x="102" y="322" font-family="Liberation Sans" font-size="11" font-weight="normal" fill="#000" stroke="#000" stroke-width="0.15" text-anchor="start">230</text>
<text x="175" y="322" font-family="Liberation Sans" font-size="11" font-weight="normal" fill="#000" stroke="#000" stroke-width="0.15" text-anchor="start">460</text>
<text x="246" y="322" font-family="Liberation Sans" font-size="11" font-weight="normal" fill="#000" stroke="#000" stroke-width="0.15" text-anchor="start">920</text>
<text x="349" y="277" font-family="Liberation Sans" font-size="11" font-weight="normal" fill="#000" stroke="#000" stroke-width="0.15" text-anchor="start">f</text>
<text x="353" y="280" font-family="Liberation Sans" font-size="10" font-weight="normal" fill="#000" stroke="#000" stroke-width="0.15" text-anchor="start">0</text>
<text x="363" y="277" font-family="Liberation Sans" font-size="11" font-weight="normal" fill="#000" stroke="#000" stroke-width="0.15" text-anchor="start" letter-spacing="1">17</text>
</svg>
</body></html>
